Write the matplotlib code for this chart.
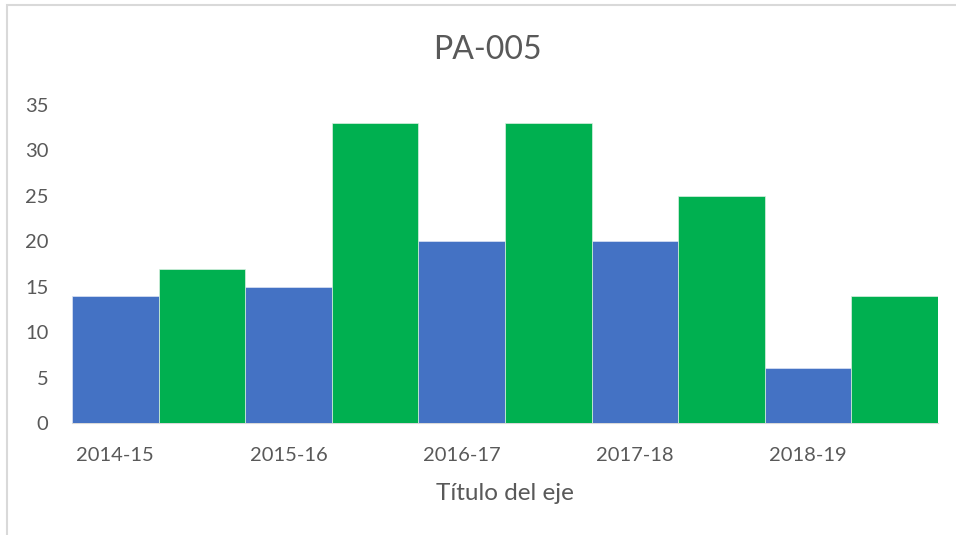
import matplotlib
matplotlib.use("Agg")
import matplotlib.pyplot as plt
from matplotlib.patches import Rectangle

categories = ["2014-15", "2015-16", "2016-17", "2017-18", "2018-19"]
blue_values = [14, 15, 20, 20, 6]
green_values = [17, 33, 33, 25, 14]
y_ticks = [0, 5, 10, 15, 20, 25, 30, 35]

plt.rcParams['font.family'] = ['Lato', 'DejaVu Sans']
text_color = "#595959"

fig = plt.figure(figsize=(9.56, 5.35), dpi=100)
ax = fig.add_axes([72/956, 1-423/535, (938-72)/956, (423-105)/535])

n = len(categories)
bx = [2*i for i in range(n)]
gx = [2*i + 1 for i in range(n)]
ax.bar(bx, blue_values, width=1.0, color="#4472C4", edgecolor="#DCE4F4", linewidth=0.5, zorder=2)
ax.bar(gx, green_values, width=1.0, color="#00B050", edgecolor="#DCF0E2", linewidth=0.5, zorder=2)

ax.set_xlim(-0.5, 2*n - 0.5)
ax.set_ylim(0, 35)
ax.set_yticks(y_ticks)
ax.set_yticklabels([str(v) for v in y_ticks])
ax.set_xticks(bx)
ax.set_xticklabels(categories)
ax.tick_params(axis='both', length=0, colors=text_color, labelsize=14.5)
ax.tick_params(axis='y', pad=17)
ax.tick_params(axis='x', pad=17)
for s in ["top", "right", "left"]:
    ax.spines[s].set_visible(False)
ax.spines["bottom"].set_color("#D9D9D9")
ax.spines["bottom"].set_zorder(1)

ax.set_xlabel("Título del eje", fontsize=17.5, color=text_color, labelpad=14)
fig.text(487/956, 1-50/535, "PA-005", ha="center", va="center", fontsize=23, color=text_color)

fig.patches.append(Rectangle((7/956, -0.5), 2, 1.5 - 5/535, transform=fig.transFigure,
                             fill=False, edgecolor="#D9D9D9", linewidth=1.5))

fig.savefig("out.png", dpi=100)
